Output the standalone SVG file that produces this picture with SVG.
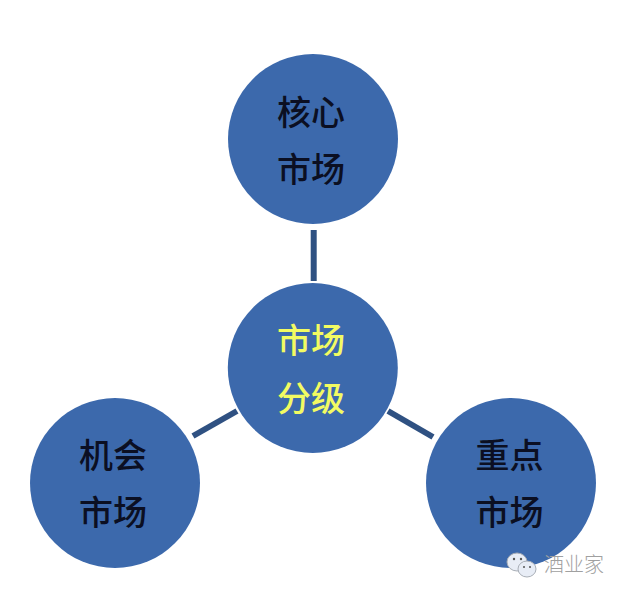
<svg xmlns="http://www.w3.org/2000/svg" width="624" height="596" viewBox="0 0 624 596">
<style>
.n{fill:#3c69ac}
.c{stroke:#2f5182;stroke-width:6;fill:none}
text{font-family:"Noto Sans CJK SC","Noto Sans",sans-serif;font-size:34px;font-weight:500;text-anchor:middle;fill:#0b0f22}
.y{fill:#f2fb62}
.w{font-size:20px;font-weight:300;fill:#a0a0a0}
.b{fill:#e8edf6;stroke:#a8aeb6;stroke-width:1}
.d{fill:#555}
</style>
<rect width="624" height="596" fill="#fff"/>
<g id="connectors">
<line class="c" x1="313.700" y1="230" x2="313.700" y2="281"/>
<line class="c" x1="193" y1="436" x2="237" y2="411"/>
<line class="c" x1="388" y1="411" x2="433" y2="437"/>
</g>
<g id="core"><circle class="n" cx="313" cy="139" r="85"/><text x="311" y="125">核心</text><text x="311" y="182">市场</text></g>
<g id="center"><circle class="n" cx="312.800" cy="368" r="85"/><text class="y" x="311" y="353">市场</text><text class="y" x="311" y="411">分级</text></g>
<g id="opportunity"><circle class="n" cx="115" cy="483" r="85"/><text x="113" y="468">机会</text><text x="113" y="525">市场</text></g>
<g id="key"><circle class="n" cx="511" cy="483" r="85"/><text x="509.500" y="468">重点</text><text x="509.500" y="525">市场</text></g>
<g id="watermark">
<ellipse class="b" cx="517" cy="562" rx="10" ry="9"/>
<ellipse class="b" cx="527" cy="569" rx="9" ry="8"/>
<circle class="d" cx="514" cy="559" r="1.200"/><circle class="d" cx="521" cy="559" r="1.200"/>
<circle class="d" cx="524" cy="567" r="1"/><circle class="d" cx="530" cy="567" r="1"/>
<text class="w" x="574" y="572">酒业家</text>
</g>
</svg>
